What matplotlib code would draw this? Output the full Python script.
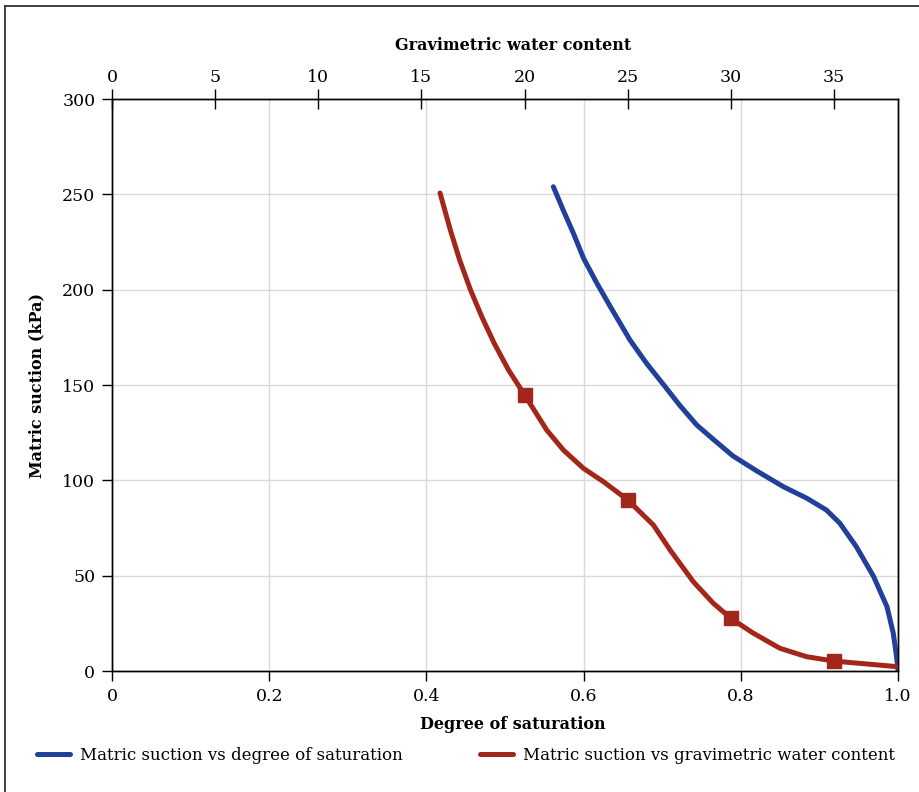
import matplotlib as mpl
mpl.use('Agg')

import matplotlib.pyplot as plt
from matplotlib.lines import Line2D

plt.rcParams['font.family'] = ['DejaVu Serif']

# Matric suction vs degree of saturation (bottom axis)
sat_S = [0.5615, 0.574, 0.587, 0.600, 0.617, 0.634, 0.659, 0.680, 0.703, 0.722,
         0.744, 0.765, 0.790, 0.820, 0.854, 0.884, 0.909, 0.926, 0.947, 0.969,
         0.986, 0.994, 0.998, 1.0]
sat_suction = [254.0, 241.8, 229.6, 216.4, 203.3, 191.1, 173.6, 161.4, 149.5, 139.5,
               129.0, 121.5, 112.8, 105.0, 96.7, 90.6, 84.4, 77.5, 65.2, 49.5,
               33.7, 19.8, 8.0, 0.5]

# Matric suction vs gravimetric water content (top axis)
grav_w = [15.9, 16.4, 16.85, 17.38, 17.93, 18.52, 19.22, 20.0, 21.07, 21.88,
          22.85, 23.82, 25.0, 26.24, 27.05, 28.18, 29.15, 30.0, 31.09, 32.38,
          33.67, 35.0, 38.04]
grav_suction = [250.7, 231.3, 215.6, 199.8, 185.7, 172.0, 157.9, 144.8, 126.4, 115.9,
                106.3, 99.3, 89.7, 76.6, 63.5, 46.8, 35.5, 27.6, 19.8, 11.9,
                7.5, 5.2, 2.3]
grav_markers = [7, 12, 17, 21]  # w = 20, 25, 30, 35

x_ticks = [0, 0.2, 0.4, 0.6, 0.8, 1.0]
x_tick_labels = ['0', '0.2', '0.4', '0.6', '0.8', '1.0']
top_ticks = [0, 5, 10, 15, 20, 25, 30, 35]
y_ticks = [0, 50, 100, 150, 200, 250, 300]

blue = '#21409a'
red = '#a3261b'
grid_color = '#d9d9d9'

fig = plt.figure(figsize=(9.2, 7.92), dpi=100)
ax = fig.add_axes([112 / 920, 1 - 671 / 792, 786 / 920, 572 / 792])

ax.set_xlim(0, 1.0)
ax.set_ylim(0, 300)
ax.set_xticks(x_ticks)
ax.set_xticklabels(x_tick_labels)
ax.set_yticks(y_ticks)
ax.grid(True, color=grid_color, linewidth=1.0)
ax.set_axisbelow(True)
ax.tick_params(axis='both', labelsize=12.5, length=7, width=1.0, color='black',
               direction='out', pad=5)

ax.plot(sat_S, sat_suction, color=blue, linewidth=3.6, solid_capstyle='round',
        solid_joinstyle='round', zorder=3)

ax.set_xlabel('Degree of saturation', fontsize=11.5, fontweight='bold')
ax.set_ylabel('Matric suction (kPa)', fontsize=11.5, fontweight='bold', labelpad=12)
ax.xaxis.set_label_coords(0.51, -0.078)

ax2 = ax.twiny()
ax2.set_xlim(0, 786 / 20.63)
ax2.set_xticks(top_ticks)
ax2.tick_params(axis='x', labelsize=12.5, length=14, width=1.0, direction='inout', pad=2)
ax2.plot(grav_w, grav_suction, color=red, linewidth=3.6, solid_capstyle='round',
         solid_joinstyle='round', marker='s', markersize=10, markevery=grav_markers,
         zorder=3)
ax2.set_xlabel('Gravimetric water content', fontsize=11.5, fontweight='bold')
ax2.xaxis.set_label_coords(0.51, 1.086)

for a in (ax, ax2):
    for s in a.spines.values():
        s.set_color('black')
        s.set_linewidth(1.0)

# legend below the plot
handles = [Line2D([], [], color=blue, linewidth=3.6, solid_capstyle='round'),
           Line2D([], [], color=red, linewidth=3.6, solid_capstyle='round')]
labels = ['Matric suction vs degree of saturation',
          'Matric suction vs gravimetric water content']
fig.legend(handles, labels, loc='center', bbox_to_anchor=(0.5 + 6 / 920, 1 - 755 / 792),
           ncol=2, frameon=False, fontsize=12, handlelength=2.0, handletextpad=0.6,
           columnspacing=4.6)

# outer frame (left and top edges)
fig.add_artist(Line2D([5 / 920, 5 / 920], [0, 1 - 6 / 792], transform=fig.transFigure,
                      color='#333333', linewidth=1.3))
fig.add_artist(Line2D([5 / 920, 1], [1 - 6 / 792, 1 - 6 / 792], transform=fig.transFigure,
                      color='#333333', linewidth=1.3))

fig.savefig('out.png', dpi=100, facecolor='white')
